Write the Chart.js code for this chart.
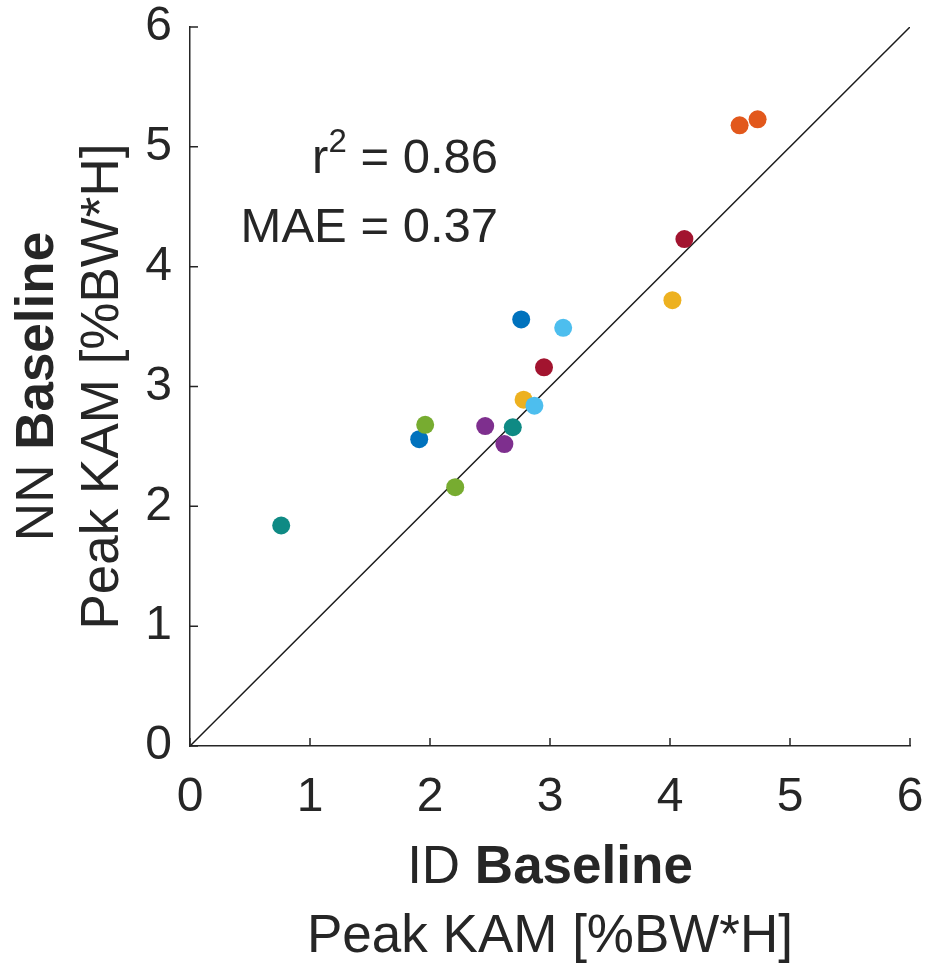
<!DOCTYPE html>
<html>
<head>
<meta charset="utf-8">
<script src="https://cdn.jsdelivr.net/npm/chart.js@4.4.0/dist/chart.umd.min.js"></script>
<style>
	html, body { margin: 0; padding: 0; background: #fff; }
	#wrap { width: 929px; height: 965px; }
</style>
</head>
<body>
<div id="wrap"><canvas id="kam-chart" width="929" height="965"></canvas></div>
<script>
// peak KAM [%BW*H], inverse dynamics vs neural network, baseline trials
const idBaseline = [0.76, 2.69, 1.91, 2.76, 1.96, 2.21, 2.46, 2.62, 2.78, 4.02, 2.87, 3.11, 2.95, 4.12, 4.58, 4.73];
const nnBaseline = [1.84, 2.66, 2.56, 3.56, 2.68, 2.16, 2.67, 2.52, 2.89, 3.72, 2.84, 3.49, 3.16, 4.23, 5.18, 5.23];
const subjectColors = ['#0F8A84', '#0F8A84', '#0072BD', '#0072BD', '#77AC30', '#77AC30', '#7E2F8E', '#7E2F8E',
	'#EDB120', '#EDB120', '#4DBEEE', '#4DBEEE', '#A2142F', '#A2142F', '#E2581C', '#E2581C'];
const identityLine = [0, 6];
const axisTicks = [0, 1, 2, 3, 4, 5, 6];
const statLines = [['r', '2', ' = 0.86'], ['MAE', '', ' = 0.37']];

const textColor = '#262626';
const fontFamily = '"Liberation Sans", Arial, Helvetica, sans-serif';

// draw a line made of [text, bold] parts centred on x
function drawParts(ctx, parts, x, y, size) {
	let total = 0;
	const widths = parts.map(p => {
		ctx.font = (p[1] ? 'bold ' : '') + size + 'px ' + fontFamily;
		const w = ctx.measureText(p[0]).width;
		total += w;
		return w;
	});
	let cx = x - total / 2;
	parts.forEach((p, i) => {
		ctx.font = (p[1] ? 'bold ' : '') + size + 'px ' + fontFamily;
		ctx.fillText(p[0], cx, y);
		cx += widths[i];
	});
}

const decorPlugin = {
	id: 'decor',
	afterDraw: (chart) => {
		const { ctx, chartArea: { top, bottom, left, right }, scales: { x, y } } = chart;
		ctx.save();
		ctx.strokeStyle = textColor;
		ctx.lineWidth = 1.5;

		// inward ticks like matlab
		ctx.beginPath();
		axisTicks.forEach(v => {
			const px = x.getPixelForValue(v);
			ctx.moveTo(px, bottom);
			ctx.lineTo(px, bottom - 8);
			const py = y.getPixelForValue(v);
			ctx.moveTo(left, py);
			ctx.lineTo(left + 8, py);
		});
		ctx.stroke();

		ctx.fillStyle = textColor;
		ctx.textBaseline = 'alphabetic';
		ctx.textAlign = 'left';

		// axis titles
		const midX = (left + right) / 2;
		drawParts(ctx, [['ID ', false], ['Baseline', true]], midX, 883, 53);
		drawParts(ctx, [['Peak KAM [%BW*H]', false]], midX, 952, 53);

		const midY = (top + bottom) / 2;
		ctx.save();
		ctx.translate(53, midY);
		ctx.rotate(-Math.PI / 2);
		drawParts(ctx, [['NN ', false], ['Baseline', true]], 0, 0, 53);
		ctx.restore();
		ctx.save();
		ctx.translate(118, midY);
		ctx.rotate(-Math.PI / 2);
		drawParts(ctx, [['Peak KAM [%BW*H]', false]], 0, 0, 53);
		ctx.restore();

		// stats text, right aligned
		const rightEdge = 498;
		const baselines = [173, 242];
		statLines.forEach((line, i) => {
			ctx.font = '49px ' + fontFamily;
			const w0 = ctx.measureText(line[0]).width;
			const w2 = ctx.measureText(line[2]).width;
			ctx.font = '33px ' + fontFamily;
			const w1 = ctx.measureText(line[1]).width;
			let cx = rightEdge - (w0 + w1 + w2);
			ctx.font = '49px ' + fontFamily;
			ctx.fillText(line[0], cx, baselines[i]);
			cx += w0;
			ctx.font = '33px ' + fontFamily;
			ctx.fillText(line[1], cx, baselines[i] - 21);
			cx += w1;
			ctx.font = '49px ' + fontFamily;
			ctx.fillText(line[2], cx, baselines[i]);
		});

		ctx.restore();
	}
};

const ctx = document.getElementById('kam-chart');

new Chart(ctx, {
	type: 'scatter',
	data: {
		datasets: [{
			label: 'Baseline',
			data: idBaseline.map((v, i) => ({ x: v, y: nnBaseline[i] })),
			backgroundColor: subjectColors,
			borderWidth: 0,
			pointRadius: 9,
			pointHoverRadius: 9,
			order: 1
		}, {
			label: 'Identity',
			type: 'line',
			data: identityLine.map(v => ({ x: v, y: v })),
			borderColor: '#1a1a1a',
			borderWidth: 1.5,
			pointRadius: 0,
			fill: false,
			order: 2
		}]
	},
	options: {
		responsive: false,
		animation: false,
		events: [],
		layout: {
			padding: { top: 27, right: 19, left: 0, bottom: 0 }
		},
		plugins: {
			legend: { display: false },
			tooltip: { enabled: false }
		},
		scales: {
			x: {
				type: 'linear',
				min: 0,
				max: 6,
				afterFit: (scale) => {
					scale.height = 219;
					scale.paddingLeft = 0;
					scale.paddingRight = 0;
				},
				afterBuildTicks: (scale) => { scale.ticks = axisTicks.map(v => ({ value: v })); },
				grid: { display: false },
				border: { display: true, color: textColor, width: 1.5 },
				ticks: {
					color: textColor,
					padding: 15,
					font: { family: fontFamily, size: 48 }
				}
			},
			y: {
				type: 'linear',
				min: 0,
				max: 6,
				afterFit: (scale) => {
					scale.width = 190;
					scale.paddingTop = 0;
					scale.paddingBottom = 0;
				},
				afterBuildTicks: (scale) => { scale.ticks = axisTicks.map(v => ({ value: v })); },
				grid: { display: false },
				border: { display: true, color: textColor, width: 1.5 },
				ticks: {
					color: textColor,
					padding: 10,
					font: { family: fontFamily, size: 48 }
				}
			}
		}
	},
	plugins: [decorPlugin]
});
</script>
</body>
</html>
